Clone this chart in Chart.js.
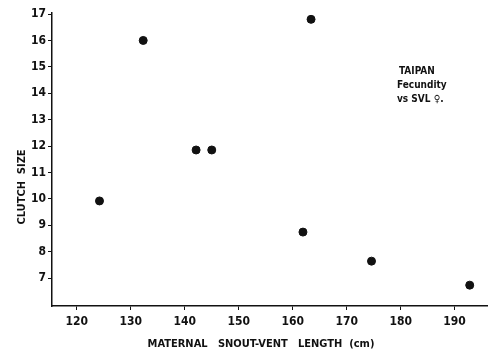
<!DOCTYPE html>
<html>
<head>
<meta charset="utf-8">
<script src="https://cdn.jsdelivr.net/npm/chart.js@4/dist/chart.umd.min.js"></script>
<style>
  html, body { margin: 0; padding: 0; background: #fff; }
  #wrap { width: 492px; height: 359px; }
</style>
</head>
<body>
<div id="wrap"><canvas id="chart"></canvas></div>
<script>
// maternal snout-vent length (cm) and clutch size
const svl = [124.2, 132.3, 142.1, 145.0, 163.4, 161.9, 174.6, 192.8]
const clutch = [9.92, 16.0, 11.85, 11.85, 16.8, 8.74, 7.64, 6.73]
const xTicks = [120, 130, 140, 150, 160, 170, 180, 190]
const yTicks = [7, 8, 9, 10, 11, 12, 13, 14, 15, 16, 17]
const xTitle = 'MATERNAL   SNOUT-VENT   LENGTH  (cm)'
const yTitle = 'CLUTCH  SIZE'
const noteLines = ['TAIPAN', 'Fecundity', 'vs SVL \u2640.']

const ink = '#111'
const tickFont = { family: 'DejaVu Sans Condensed', size: 12, weight: 'bold' }

// axis titles sit a bit off-centre in the original, plus the corner note
const textPlugin = {
    id: 'texts',
    afterDraw(chart) {
        const ctx = chart.ctx
        ctx.save()
        ctx.fillStyle = ink
        ctx.textBaseline = 'middle'

        ctx.font = 'bold 11px "DejaVu Sans Condensed"'
        ctx.textAlign = 'center'
        ctx.fillText(xTitle, 261, 344)

        ctx.save()
        ctx.translate(22, 187)
        ctx.rotate(-Math.PI / 2)
        ctx.fillText(yTitle, 0, 0)
        ctx.restore()

        ctx.font = 'bold 10px "DejaVu Sans Condensed"'
        ctx.textAlign = 'left'
        ctx.fillText(noteLines[0], 399, 71)
        ctx.fillText(noteLines[1], 397, 85)
        ctx.fillText(noteLines[2], 397, 99)
        ctx.restore()
    }
}

const data = svl.map((x, i) => ({ x: x, y: clutch[i] }))

new Chart(document.getElementById('chart'), {
    type: 'scatter',
    data: {
        datasets: [{
            data: data,
            backgroundColor: ink,
            borderColor: ink,
            pointRadius: 4,
            pointHoverRadius: 4
        }]
    },
    options: {
        responsive: true,
        maintainAspectRatio: false,
        animation: false,
        layout: { padding: { top: 13, right: 0, left: 0, bottom: 0 } },
        plugins: {
            legend: { display: false },
            tooltip: { enabled: false }
        },
        scales: {
            x: {
                type: 'linear',
                min: 115.4,
                max: 196,
                afterBuildTicks: (s) => { s.ticks = xTicks.map(v => ({ value: v })) },
                afterFit: (s) => { s.height = 53 },
                grid: { drawOnChartArea: false, color: ink, tickLength: 4, lineWidth: 1 },
                border: { color: ink, width: 1.5 },
                ticks: { color: ink, font: tickFont, padding: 5, maxRotation: 0 }
            },
            y: {
                type: 'linear',
                min: 5.94,
                max: 17.04,
                afterBuildTicks: (s) => { s.ticks = yTicks.map(v => ({ value: v })) },
                afterFit: (s) => { s.width = 52 },
                grid: { drawOnChartArea: false, color: ink, tickLength: 4, lineWidth: 1 },
                border: { color: ink, width: 1.5 },
                ticks: { color: ink, font: tickFont, padding: 2 }
            }
        }
    },
    plugins: [textPlugin]
})
</script>
</body>
</html>
